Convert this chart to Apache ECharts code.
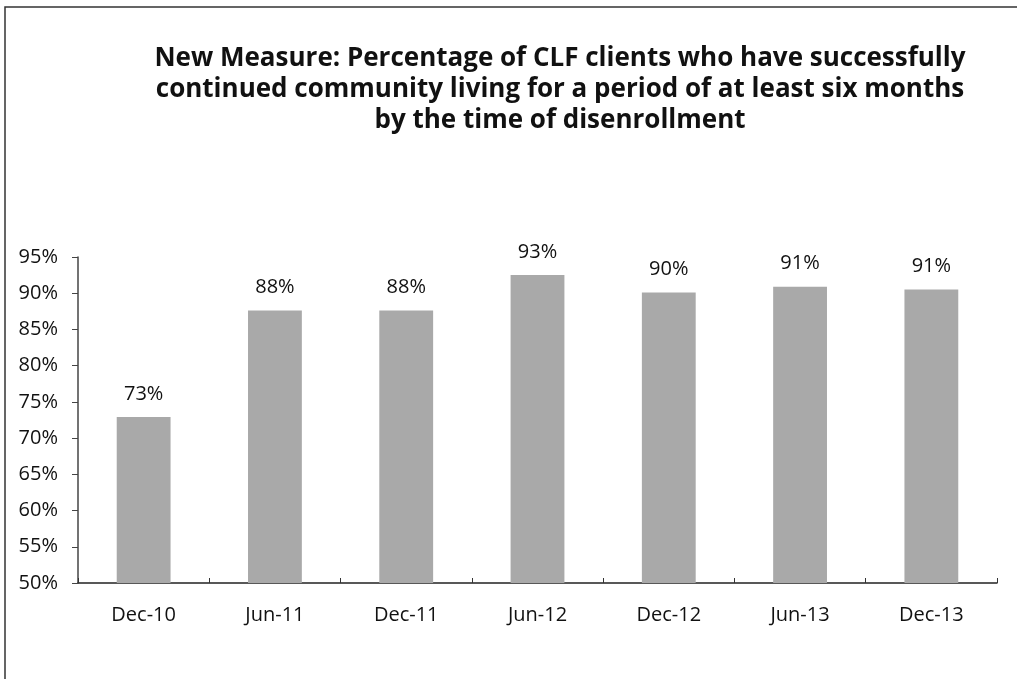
<!DOCTYPE html>
<html>
<head>
<meta charset="utf-8">
<script src="https://cdn.jsdelivr.net/npm/echarts@6/dist/echarts.min.js"></script>
<style>
    html, body { margin: 0; padding: 0; background: #fff; }
    #chart { width: 1017px; height: 679px; }
</style>
</head>
<body>
<div id="chart"></div>
<script>
// 数据
const categories = ['Dec-10', 'Jun-11', 'Dec-11', 'Jun-12', 'Dec-12', 'Jun-13', 'Dec-13'];
const values = [72.9, 87.6, 87.6, 92.5, 90.1, 90.9, 90.5];
const titleLines = [
    'New Measure: Percentage of CLF clients who have successfully',
    'continued community living for a period of at least six months',
    'by the time of disenrollment'
];

const fontFamily = '"Open Sans", Lato, sans-serif';

document.addEventListener('DOMContentLoaded', () => {
    const chart = echarts.init(document.getElementById('chart'));
    chart.setOption({
        backgroundColor: '#fff',
        animation: false,
        title: {
            text: titleLines.join('\n'),
            left: 555,
            top: 38,
            textAlign: 'center',
            textStyle: {
                fontFamily: fontFamily,
                fontSize: 26,
                fontWeight: 'bold',
                color: '#111',
                lineHeight: 31
            }
        },
        grid: {
            left: 78,
            right: 20,
            top: 257,
            bottom: 96,
            containLabel: false
        },
        xAxis: {
            type: 'category',
            data: categories,
            axisLine: { lineStyle: { color: '#222', width: 1.5 } },
            axisTick: { show: true, inside: true, length: 5, lineStyle: { color: '#333' } },
            axisLabel: {
                margin: 22,
                fontFamily: fontFamily,
                fontSize: 20,
                color: '#111'
            }
        },
        yAxis: {
            type: 'value',
            min: 50,
            max: 95,
            interval: 5,
            axisLine: { show: true, lineStyle: { color: '#444', width: 1.5 } },
            axisTick: { show: true, length: 6, lineStyle: { color: '#444' } },
            splitLine: { show: false },
            axisLabel: {
                margin: 20,
                formatter: '{value}%',
                fontFamily: fontFamily,
                fontSize: 20,
                color: '#111'
            }
        },
        series: [{
            type: 'bar',
            data: values,
            barWidth: '41%',
            itemStyle: { color: '#a9a9a9' },
            label: {
                show: true,
                position: 'top',
                distance: 13,
                formatter: p => Math.round(p.value) + '%',
                fontFamily: fontFamily,
                fontSize: 20,
                color: '#111'
            }
        }],
        graphic: [{
            type: 'polyline',
            shape: { points: [[5, 679], [5, 7], [1017, 7]] },
            style: { stroke: '#333', lineWidth: 1.5, fill: null }
        }]
    });
});
</script>
</body>
</html>
